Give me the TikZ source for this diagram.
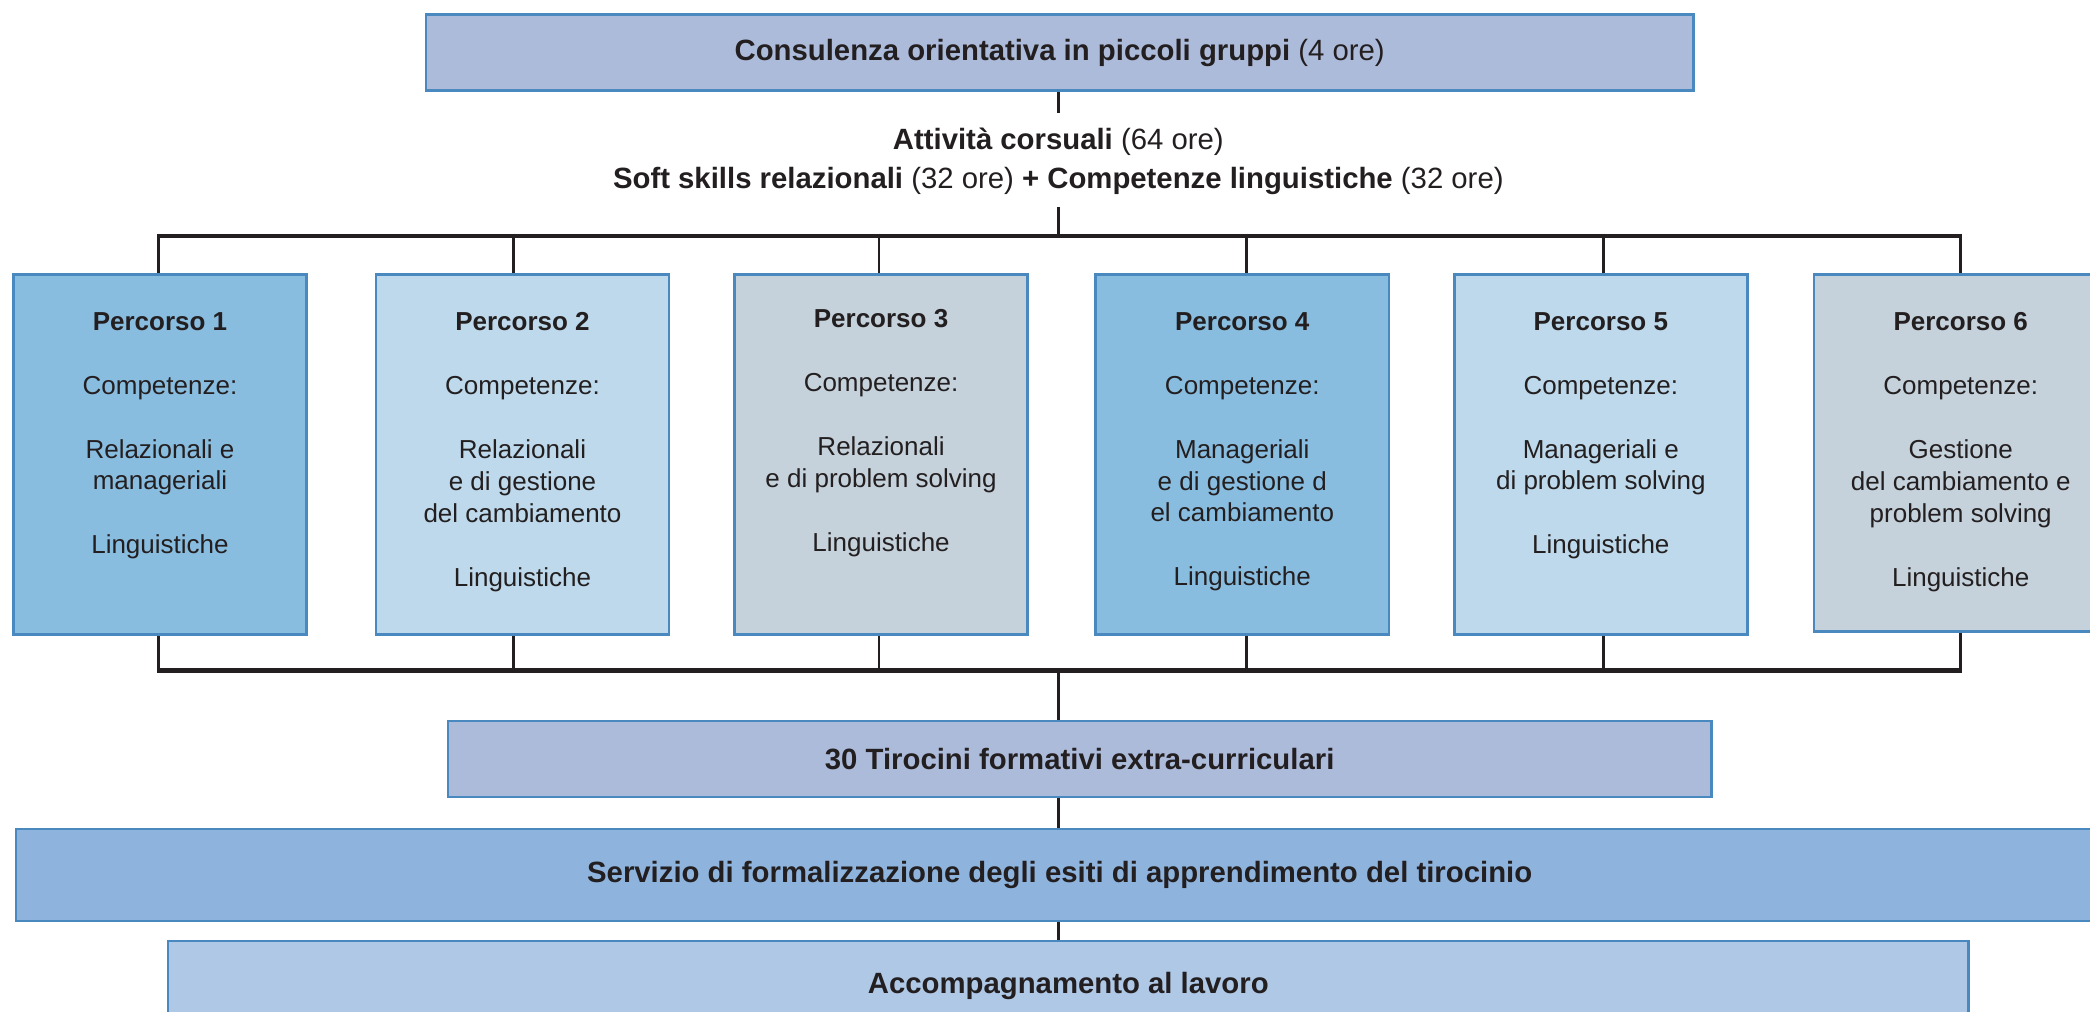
\documentclass[tikz,border=0pt]{standalone}
\usepackage{fontspec}
\setmainfont{Liberation Sans}
\usetikzlibrary{calc}
\definecolor{txt}{HTML}{231F20}
\definecolor{edge}{HTML}{4A89BF}
\definecolor{lav}{HTML}{ADBBDB}
\definecolor{blueA}{HTML}{89BDE0}
\definecolor{blueB}{HTML}{BDD9EB}
\definecolor{greyC}{HTML}{C5D2DC}
\definecolor{serv}{HTML}{8EB4DE}
\definecolor{acc}{HTML}{AFC8E6}
\begin{document}
\begin{tikzpicture}[x=1pt,y=-1pt,
  box/.style={draw=edge, line width=2pt, inner sep=0pt, anchor=north west, text=txt,
    font=\fontsize{22}{29}\selectfont\bfseries},
  pbox/.style={box, minimum width=220pt, minimum height=270pt},
  ptext/.style={anchor=north, inner sep=0pt, align=center, text=txt,
    font=\fontsize{19.5}{24}\selectfont},
  bigtext/.style={inner sep=0pt, align=center, text=txt, font=\fontsize{22}{29}\selectfont},
  stub/.style={draw=txt, line width=2pt},
  bus/.style={draw=txt, line width=3.6pt}
]
\useasboundingbox (0,0) rectangle (1568,759);
\clip (0,0) rectangle (1568,759);

% top box
\node[box, fill=lav, minimum width=951pt, minimum height=57pt] (top) at (318.5,10)
  {Consulenza orientativa in piccoli gruppi \mdseries(4 ore)};

% heading label
\node[bigtext, anchor=north] (lab) at (794,96)
  {\textbf{Attività corsuali} (64 ore)\\
   \textbf{Soft skills relazionali} (32 ore) \textbf{+ Competenze linguistiche} (32 ore)};

% bus coordinates
\coordinate (bt) at (794,177);
\coordinate (b1t) at (119,177);
\coordinate (b2t) at (385,177);
\coordinate (b3t) at (659.5,177);
\coordinate (b4t) at (935,177);
\coordinate (b5t) at (1203,177);
\coordinate (b6t) at (1471,177);
\coordinate (bb) at (794,503);
\coordinate (b1b) at (119,503);
\coordinate (b2b) at (385,503);
\coordinate (b3b) at (659.5,503);
\coordinate (b4b) at (935,503);
\coordinate (b5b) at (1203,503);
\coordinate (b6b) at (1471,503);

% Percorso boxes
\node[pbox, fill=blueA] (p1) at (9,205) {};
\node[pbox, fill=blueB] (p2) at (281,205) {};
\node[pbox, fill=greyC] (p3) at (550,205) {};
\node[pbox, fill=blueA] (p4) at (821,205) {};
\node[pbox, fill=blueB] (p5) at (1090,205) {};
\node[pbox, fill=greyC, minimum height=268pt] (p6) at (1360,205) {};

\node[ptext] (t1) at ($(p1.north)+(0,29)$)
  {\textbf{Percorso 1}\\[24pt]Competenze:\\[24pt]Relazionali e\\manageriali\\[24pt]Linguistiche};
\node[ptext] (t2) at ($(p2.north)+(0,29)$)
  {\textbf{Percorso 2}\\[24pt]Competenze:\\[24pt]Relazionali\\e di gestione\\del cambiamento\\[24pt]Linguistiche};
\node[ptext] (t3) at ($(p3.north)+(0,27)$)
  {\textbf{Percorso 3}\\[24pt]Competenze:\\[24pt]Relazionali\\e di problem solving\\[24pt]Linguistiche};
\node[ptext] (t4) at ($(p4.north)+(0,29)$)
  {\textbf{Percorso 4}\\[24pt]Competenze:\\[24pt]Manageriali\\e di gestione d\\el cambiamento\\[24pt]Linguistiche};
\node[ptext] (t5) at ($(p5.north)+(0,29)$)
  {\textbf{Percorso 5}\\[24pt]Competenze:\\[24pt]Manageriali e\\di problem solving\\[24pt]Linguistiche};
\node[ptext] (t6) at ($(p6.north)+(0,29)$)
  {\textbf{Percorso 6}\\[24pt]Competenze:\\[24pt]Gestione\\del cambiamento e\\problem solving\\[24pt]Linguistiche};

% lower boxes
\node[box, fill=lav, minimum width=948pt, minimum height=57pt] (tir) at (335,540)
  {30 Tirocini formativi extra-curriculari};
\node[box, fill=serv, minimum width=1566pt, minimum height=69pt] (serv) at (11,621)
  {Servizio di formalizzazione degli esiti di apprendimento del tirocinio};
\node[box, fill=acc, minimum width=1351pt, minimum height=68pt] (acc) at (125,705)
  {Accompagnamento al lavoro};

% connectors top
\draw[stub] (top.south -| bt) -- ($(lab.north)+(0,-11)$);
\draw[stub] ($(lab.south)+(0,9)$) -- (bt);
\draw[bus] (b1t) -- (b6t);
\foreach \i in {1,...,6} {
  \draw[stub] ($(b\i t)+(0,-1.8)$) -- (b\i t |- p\i.north);
  \draw[stub] (b\i b |- p\i.south) -- ($(b\i b)+(0,1.8)$);
}
\draw[bus] (b1b) -- (b6b);
\draw[stub] (bb) -- (tir.north -| bb);
\draw[stub] (tir.south -| bb) -- (serv.north -| bb);
\draw[stub] (serv.south -| bb) -- (acc.north -| bb);
\end{tikzpicture}
\end{document}
